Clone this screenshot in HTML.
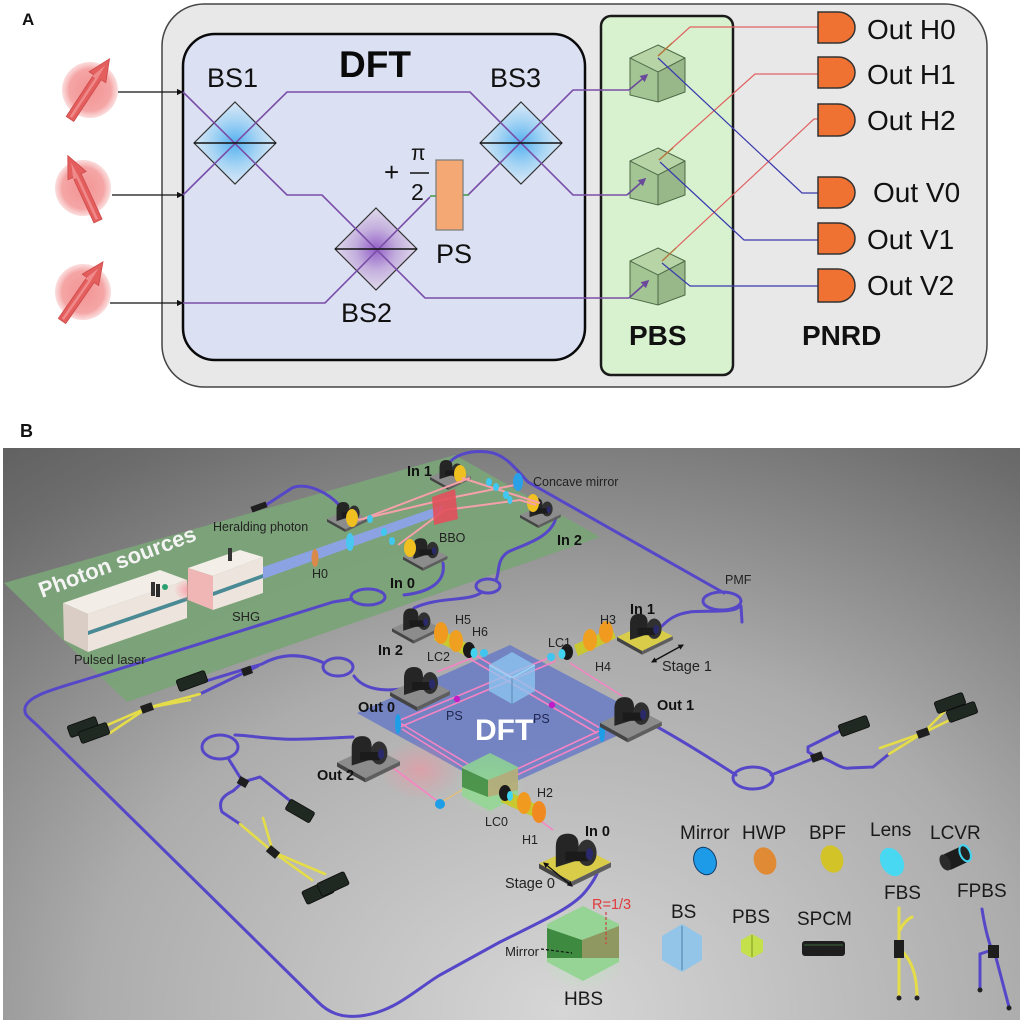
<!DOCTYPE html>
<html><head><meta charset="utf-8"><style>
html,body{margin:0;padding:0;background:#fff;}
svg{display:block;}
text{font-family:"Liberation Sans",Arial,sans-serif;}
</style></head><body>
<svg width="1024" height="1024" viewBox="0 0 1024 1024" xmlns="http://www.w3.org/2000/svg" xmlns:xlink="http://www.w3.org/1999/xlink">
<defs>
 <radialGradient id="gBS" cx="50%" cy="50%" r="50%">
  <stop offset="0" stop-color="#55b2f0"/><stop offset=".55" stop-color="#a6d4f4"/><stop offset="1" stop-color="#dbe8f6"/>
 </radialGradient>
 <radialGradient id="gBS2" cx="50%" cy="50%" r="50%">
  <stop offset="0" stop-color="#9460c8"/><stop offset=".5" stop-color="#c3aedd"/><stop offset="1" stop-color="#e0dbec"/>
 </radialGradient>
 <radialGradient id="gSph" cx="50%" cy="50%" r="50%">
  <stop offset="0" stop-color="#f39494"/><stop offset=".75" stop-color="#f5a5a5"/><stop offset="1" stop-color="#f8c6c6" stop-opacity=".6"/>
 </radialGradient>
 <radialGradient id="gBg" gradientUnits="userSpaceOnUse" cx="560" cy="1010" r="800" gradientTransform="translate(560,1010) scale(1.3,1) translate(-560,-1010)">
  <stop offset="0" stop-color="#d6d6d6"/><stop offset=".45" stop-color="#acacac"/><stop offset=".8" stop-color="#6c6c6c"/><stop offset="1" stop-color="#525252"/>
 </radialGradient>
 <radialGradient id="gGlow" cx="50%" cy="50%" r="50%">
  <stop offset="0" stop-color="#ff8a9a" stop-opacity=".8"/><stop offset="1" stop-color="#ff8a9a" stop-opacity="0"/>
 </radialGradient>
 <radialGradient id="gGreenGlow" cx="50%" cy="50%" r="50%">
  <stop offset="0" stop-color="#a8f0a8" stop-opacity=".9"/><stop offset="1" stop-color="#a8f0a8" stop-opacity="0"/>
 </radialGradient>
 <marker id="mp" viewBox="0 0 10 10" refX="8" refY="5" markerWidth="5" markerHeight="5" orient="auto"><path d="M0,0 L10,5 L0,10 z" fill="#6a4a9a"/></marker>
 <marker id="mk" viewBox="0 0 10 10" refX="8" refY="5" markerWidth="5" markerHeight="5" orient="auto"><path d="M0,0 L10,5 L0,10 z" fill="#111"/></marker>
 <marker id="mk2" viewBox="0 0 10 10" refX="8" refY="5" markerWidth="4" markerHeight="4" orient="auto-start-reverse"><path d="M0,0 L10,5 L0,10 z" fill="#111"/></marker>
 <g id="parrow">
  <polygon points="0,-4.5 50,-4.5 50,-10 72,0 50,10 50,4.5 0,4.5" fill="#e45e5e" stroke="#cc4848" stroke-width=".8"/>
  <polygon points="2,-1.5 48,-1.5 48,-5 64,0 48,1 2,1" fill="#f08a8a"/>
 </g>
 <g id="cube">
  <polygon points="0,0 27,13 0,27 -28,13" fill="#b6d4a6"/>
  <polygon points="-28,13 0,27 0,57 -28,50" fill="#a3c493"/>
  <polygon points="0,27 27,13 27,47 0,57" fill="#98b889"/>
  <polygon points="0,0 27,13 27,47 0,57 -28,50 -28,13" fill="none" stroke="#4d6a46" stroke-width="1"/>
  <polyline points="-28,13 0,27 27,13" fill="none" stroke="#4d6a46" stroke-width="1"/>
  <line x1="0" y1="27" x2="0" y2="57" stroke="#4d6a46" stroke-width="1"/>
 </g>
 <g id="mt">
  <polygon points="0,28 33,13 60,27 27,43"/>
  <polygon points="0,28 27,43 27,47 0,32" fill="#444"/>
  <polygon points="27,43 60,27 60,31 27,47" fill="#5e5e5e"/>
  <path d="M14,31 L14,14 Q14,3 24,3 Q33,3 33,13 L33,25 Z" fill="#252525"/>
  <ellipse cx="40" cy="19" rx="8" ry="11" fill="#303030"/>
  <rect x="22" y="18" width="19" height="8" fill="#1b1b1b"/>
  <ellipse cx="42" cy="20" rx="3" ry="5" fill="#2a2a6a"/>
 </g>
</defs>

<!-- ================= PANEL A ================= -->
<text x="22" y="25" font-size="17" font-weight="bold" fill="#111">A</text>
<rect x="162" y="4" width="825" height="383" rx="42" fill="#e8e8e8" stroke="#444" stroke-width="1.5"/>
<rect x="183" y="34" width="402" height="326" rx="32" fill="#dbe0f3" stroke="#0a0a0a" stroke-width="2.5"/>
<rect x="601" y="16" width="132" height="359" rx="10" fill="#d8f2cf" stroke="#1a1a1a" stroke-width="2.5"/>

<!-- spheres -->
<circle cx="90" cy="90" r="28" fill="url(#gSph)"/>
<circle cx="83" cy="188" r="28" fill="url(#gSph)"/>
<circle cx="83" cy="292" r="28" fill="url(#gSph)"/>
<use href="#parrow" transform="translate(70,119) rotate(-56.7)"/>
<use href="#parrow" transform="translate(98,221) rotate(-114.8)"/>
<use href="#parrow" transform="translate(62,321) rotate(-55.3)"/>

<!-- input arrows -->
<g stroke="#111" stroke-width="1.3">
 <line x1="118" y1="92" x2="182" y2="92" marker-end="url(#mk)"/>
 <line x1="112" y1="195" x2="182" y2="195" marker-end="url(#mk)"/>
 <line x1="110" y1="303" x2="182" y2="303" marker-end="url(#mk)"/>
</g>

<!-- beam splitters -->
<polygon points="235,102 276,143 235,184 194,143" fill="url(#gBS)" stroke="#333" stroke-width="1.2"/>
<polygon points="376,208 417,249 376,290 335,249" fill="url(#gBS2)" stroke="#333" stroke-width="1.2"/>
<polygon points="521,102 562,143 521,184 480,143" fill="url(#gBS)" stroke="#333" stroke-width="1.2"/>

<!-- purple paths -->
<g fill="none" stroke="#7a4ea8" stroke-width="1.6">
 <polyline points="183,92 287,195 322,195 425,298 629,298"/>
 <polyline points="183,195 287,92 470,92 573,195 627,195"/>
 <polyline points="183,303 325,303 430,197"/>
 <polyline points="468,195 573,90 629,90"/>
</g>
<line x1="430" y1="196" x2="436" y2="196" stroke="#4a9a4a" stroke-width="1.6"/>
<line x1="462" y1="195" x2="469" y2="195" stroke="#4a9a4a" stroke-width="1.6"/>
<g stroke="#111" stroke-width="1.6">
 <line x1="194" y1="143" x2="276" y2="143"/>
 <line x1="335" y1="249" x2="417" y2="249"/>
 <line x1="480" y1="143" x2="562" y2="143"/>
</g>

<!-- phase shifter -->
<rect x="436" y="160" width="27" height="70" fill="#f4a874" stroke="#7a7a7a" stroke-width="1.2"/>
<text x="384" y="181" font-size="26" fill="#111">+</text>
<text x="411" y="160" font-size="21" fill="#111" font-family="'Liberation Serif',serif">π</text>
<line x1="410" y1="173" x2="429" y2="173" stroke="#111" stroke-width="1.5"/>
<text x="411" y="200" font-size="23" fill="#111" font-family="'Liberation Serif',serif">2</text>

<!-- PBS cubes -->
<use href="#cube" transform="translate(658,45)"/>
<use href="#cube" transform="translate(658,148)"/>
<use href="#cube" transform="translate(658,248)"/>

<g fill="none" stroke-width="1.6" stroke="#6a4a9a">
 <line x1="629" y1="90" x2="647" y2="75" marker-end="url(#mp)"/>
 <line x1="627" y1="195" x2="645" y2="179" marker-end="url(#mp)"/>
 <line x1="629" y1="298" x2="648" y2="281" marker-end="url(#mp)"/>
</g>

<!-- red and blue outputs -->
<g fill="none" stroke="#e06262" stroke-width="1.2">
 <polyline points="658,56 690,27 818,27"/>
 <polyline points="659,160 755,74 818,74"/>
 <polyline points="662,261 814,119 818,119"/>
</g>
<g fill="none" stroke="#b07a3a" stroke-width="1.2">
 <line x1="658" y1="56" x2="672" y2="43"/>
 <line x1="659" y1="160" x2="673" y2="148"/>
 <line x1="662" y1="261" x2="676" y2="248"/>
</g>
<g fill="none" stroke="#3a3aae" stroke-width="1.2">
 <polyline points="658,58 802,193 818,193"/>
 <polyline points="660,162 744,240 818,240"/>
 <polyline points="662,263 690,286 818,286"/>
</g>

<!-- detectors -->
<g fill="#f07232" stroke="#333" stroke-width="1.5">
 <path d="M818,12 H838 A17,15.5 0 0 1 838,43 H818 Z"/>
 <path d="M818,57 H838 A17,15.5 0 0 1 838,88 H818 Z"/>
 <path d="M818,104 H838 A17,16 0 0 1 838,136 H818 Z"/>
 <path d="M818,177 H838 A17,15.5 0 0 1 838,208 H818 Z"/>
 <path d="M818,223 H838 A17,15.5 0 0 1 838,254 H818 Z"/>
 <path d="M818,269 H838 A17,16.5 0 0 1 838,302 H818 Z"/>
</g>
<g font-size="28" fill="#111">
 <text x="867" y="39">Out H0</text>
 <text x="867" y="84">Out H1</text>
 <text x="867" y="130">Out H2</text>
 <text x="873" y="202">Out V0</text>
 <text x="867" y="249">Out V1</text>
 <text x="867" y="295">Out V2</text>
</g>

<!-- panel A labels -->
<text x="207" y="87" font-size="27" fill="#111">BS1</text>
<text x="490" y="87" font-size="27" fill="#111">BS3</text>
<text x="341" y="322" font-size="27" fill="#111">BS2</text>
<text x="436" y="263" font-size="27" fill="#111">PS</text>
<text x="339" y="77" font-size="37" font-weight="bold" fill="#0a0a0a">DFT</text>
<text x="629" y="345" font-size="28" font-weight="bold" fill="#111">PBS</text>
<text x="802" y="345" font-size="28" font-weight="bold" fill="#111">PNRD</text>

<!-- ================= PANEL B ================= -->
<text x="20" y="437" font-size="18" font-weight="bold" fill="#111">B</text>
<rect x="3" y="448" width="1017" height="572" fill="url(#gBg)"/>

<!-- green source plane -->
<polygon points="4,583 455,455 600,537 127,702" fill="#7aa377" opacity=".95"/>

<!-- DFT plane -->
<polygon points="357,713 510,645 652,720 497,790" fill="#6b7cc4" opacity=".88"/>

<!-- fibers -->
<g fill="none" stroke="#5547c8" stroke-width="3" stroke-linecap="round" stroke-linejoin="round">
 <!-- heralding -->
 <path d="M340,506 C328,492 306,482 292,488 L266,505"/>
 <!-- In1 source to PMF to In1 DFT -->
 <path d="M448,466 C452,455 470,450 488,452 C505,454 515,468 528,482 L724,593"/>
 <ellipse cx="722" cy="601" rx="19" ry="9"/>
 <path d="M740,605 C738,614 705,610 690,612 C675,614 668,620 662,626"/>
 <path d="M741,606 L742,622"/>
 <!-- In2 source to In2 DFT -->
 <path d="M556,517 C552,538 522,545 508,552 C496,560 500,572 496,580"/>
 <ellipse cx="488" cy="586" rx="12" ry="7"/>
 <path d="M482,592 C470,602 440,596 414,608"/>
 <!-- In0 source around to In0 DFT -->
 <path d="M443,563 C446,582 430,592 404,595"/>
 <ellipse cx="368" cy="597" rx="17" ry="8"/>
 <path d="M352,599 L333,602 L100,675 C60,688 28,694 25,708 C24,716 28,716 40,728 L318,1002 C328,1012 340,1018 360,1016 C395,1012 415,990 440,975 L500,942 C540,922 572,908 585,892 C595,880 598,872 600,866"/>
 <!-- Out0 to left SPCMs -->
 <path d="M407,688 C385,692 364,690 354,676"/>
 <ellipse cx="338" cy="667" rx="15" ry="9"/>
 <path d="M324,663 C300,652 280,654 262,664 L206,681"/>
 <path d="M258,666 L200,694"/>
 <!-- Out1 to right SPCMs -->
 <path d="M640,718 C665,730 705,755 736,775"/>
 <ellipse cx="753" cy="778" rx="20" ry="11"/>
 <path d="M771,775 C790,768 805,762 817,757 L808,752 L808,747 L842,730"/>
 <path d="M817,757 C830,758 840,770 850,768 L873,767 L889,754"/>
 <!-- Out2 to SPCMs -->
 <path d="M353,737 C330,738 300,740 283,739 C260,738 245,735 235,735"/>
 <ellipse cx="220" cy="747" rx="18" ry="12"/>
 <path d="M228,758 L243,782 L260,777 L293,803"/>
 <path d="M243,782 L233,791 C222,796 218,802 222,812 L240,824"/>
</g>
<!-- yellow fibers -->
<g fill="none" stroke="#e4dc48" stroke-width="2.6" stroke-linecap="round">
 <path d="M200,694 L147,708 L105,726"/>
 <path d="M190,700 L147,708 L110,733"/>
 <path d="M889,754 L923,733 L948,708"/>
 <path d="M880,748 L923,733 L958,716"/>
 <path d="M240,824 L273,852 L312,880"/>
 <path d="M263,818 L273,852 L325,874"/>
</g>
<g fill="#1e1e1e">
 <rect x="-6" y="-4" width="12" height="8" transform="translate(147,708) rotate(-20)"/>
 <rect x="-5" y="-4" width="10" height="8" transform="translate(247,671) rotate(-20)"/>
 <rect x="-6" y="-4" width="12" height="8" transform="translate(817,757) rotate(-20)"/>
 <rect x="-6" y="-4" width="12" height="8" transform="translate(923,733) rotate(-20)"/>
 <rect x="-5" y="-4" width="10" height="8" transform="translate(243,782) rotate(30)"/>
 <rect x="-6" y="-4" width="12" height="8" transform="translate(273,852) rotate(40)"/>
 <rect x="-8" y="-3" width="16" height="6" transform="translate(259,507) rotate(-20)"/>
</g>
<!-- SPCMs -->
<g fill="#1f2821" stroke="#0c0c0c" stroke-width=".8">
 <rect x="-15" y="-6" width="30" height="12" rx="2" transform="translate(192,681) rotate(-20)"/>
 <rect x="-15" y="-6" width="30" height="12" rx="2" transform="translate(83,727) rotate(-20)"/>
 <rect x="-15" y="-6" width="30" height="12" rx="2" transform="translate(94,733) rotate(-20)"/>
 <rect x="-15" y="-6" width="30" height="12" rx="2" transform="translate(854,726) rotate(-20)"/>
 <rect x="-15" y="-6" width="30" height="12" rx="2" transform="translate(950,703) rotate(-20)"/>
 <rect x="-15" y="-6" width="30" height="12" rx="2" transform="translate(962,712) rotate(-20)"/>
 <rect x="-14" y="-6" width="28" height="12" rx="2" transform="translate(300,811) rotate(30)"/>
 <rect x="-15" y="-7" width="30" height="14" rx="2" transform="translate(318,892) rotate(-25)"/>
 <rect x="-15" y="-7" width="30" height="14" rx="2" transform="translate(333,884) rotate(-25)"/>
</g>

<!-- source boxes -->
<polygon points="63,603 160,570 187,580 88,614" fill="#f2ede7"/>
<polygon points="63,603 88,614 88,652 64,640" fill="#d9cdc5"/>
<polygon points="88,614 187,580 187,618 88,652" fill="#ede4dd"/>
<polygon points="88,631 187,597 187,601 88,635" fill="#4a8a94"/>
<ellipse cx="190" cy="590" rx="16" ry="12" fill="url(#gGlow)"/>
<polygon points="188,568 240,550 263,557 213,576" fill="#f3eee8"/>
<polygon points="188,568 213,576 213,610 188,600" fill="#f0b6b6"/>
<polygon points="213,576 263,557 263,593 213,610" fill="#ede4dd"/>
<polygon points="213,592 263,574 263,578 213,596" fill="#4a8a94"/>
<rect x="228" y="548" width="4" height="13" fill="#333"/>
<rect x="151" y="582" width="4" height="14" fill="#333"/>
<rect x="156" y="584" width="4" height="13" fill="#2a2a2a"/>
<circle cx="165" cy="587" r="3" fill="#2aa070"/>

<!-- pump beam -->
<polygon points="263,567 263,579 443,514 443,505" fill="#8ea2f6" opacity=".85"/>
<ellipse cx="315" cy="558" rx="3.5" ry="9" fill="#d98a4a"/>
<ellipse cx="350" cy="542" rx="4" ry="9" fill="#48c8f0"/>

<!-- source mounts -->
<use href="#mt" fill="#8c8c8c" transform="translate(327,500) scale(.68)"/>
<use href="#mt" fill="#8c8c8c" transform="translate(430,458) scale(.68)"/>
<use href="#mt" fill="#8c8c8c" transform="translate(403,536) scale(.74)"/>
<use href="#mt" fill="#8c8c8c" transform="translate(520,496) scale(.68)"/>
<g fill="#f0c020">
 <ellipse cx="352" cy="518" rx="6" ry="9"/>
 <ellipse cx="460" cy="474" rx="6" ry="9"/>
 <ellipse cx="410" cy="548" rx="6" ry="9"/>
 <ellipse cx="533" cy="503" rx="6" ry="9"/>
</g>
<!-- BBO and beams -->
<g stroke="#f5a0aa" stroke-width="2" fill="none">
 <polyline points="358,520 455,497 515,485"/>
 <line x1="365" y1="518" x2="470" y2="478"/>
 <polyline points="398,545 445,510 520,500 536,505"/>
 <polyline points="462,478 515,495 540,503"/>
</g>
<polygon points="432,497 455,489 458,519 434,525" fill="#e3505c" opacity=".9"/>
<g fill="#40c8f0">
 <ellipse cx="370" cy="519" rx="3" ry="4"/><ellipse cx="384" cy="532" rx="3" ry="4"/>
 <ellipse cx="392" cy="541" rx="3" ry="4"/><ellipse cx="489" cy="482" rx="3" ry="4"/>
 <ellipse cx="496" cy="487" rx="3" ry="4"/><ellipse cx="506" cy="495" rx="3" ry="4"/>
 <ellipse cx="510" cy="500" rx="2.5" ry="4"/>
</g>
<ellipse cx="518" cy="482" rx="5" ry="9" fill="#2aa0e6"/>

<!-- DFT interior beams -->
<ellipse cx="420" cy="770" rx="40" ry="30" fill="url(#gGlow)" opacity=".6"/>
<g stroke="#f684c4" stroke-width="1.6" fill="none">
 <line x1="398" y1="721" x2="553" y2="656"/>
 <line x1="400" y1="727" x2="556" y2="661"/>
 <line x1="473" y1="654" x2="600" y2="728"/>
 <line x1="470" y1="659" x2="597" y2="733"/>
 <line x1="400" y1="723" x2="468" y2="764"/>
 <line x1="402" y1="729" x2="466" y2="769"/>
 <line x1="599" y1="731" x2="515" y2="770"/>
 <line x1="601" y1="736" x2="517" y2="775"/>
 <line x1="437" y1="672" x2="472" y2="658"/>
 <line x1="570" y1="663" x2="622" y2="696"/>
 <line x1="373" y1="753" x2="440" y2="803"/>
 <line x1="496" y1="788" x2="553" y2="830"/>
</g>
<line x1="440" y1="803" x2="482" y2="778" stroke="#e8c070" stroke-width="1.3"/>
<circle cx="457" cy="699" r="3.2" fill="#c21cc8"/>
<circle cx="552" cy="705" r="3.2" fill="#c21cc8"/>
<!-- BS cube -->
<polygon points="512,652 535,665 535,691 512,704 489,691 489,665" fill="#8cc8f2" opacity=".75"/>
<polyline points="489,665 512,678 535,665" fill="none" stroke="#a8dcf8" stroke-width="1"/>
<line x1="512" y1="678" x2="512" y2="704" stroke="#5a8ab0" stroke-width="1"/>
<!-- HBS cube in setup -->
<ellipse cx="490" cy="785" rx="34" ry="30" fill="url(#gGreenGlow)" opacity=".6"/>
<polygon points="490,753 518,767 518,796 490,811 462,796 462,767" fill="#90d890" opacity=".8"/>
<polygon points="462,768 488,780 488,797 462,787" fill="#3f8a3f" opacity=".85"/>
<polygon points="488,780 518,768 518,790 488,797" fill="#c0a070" opacity=".7"/>
<!-- mirrors -->
<ellipse cx="398" cy="724" rx="3" ry="10" fill="#1e9ee6"/>
<ellipse cx="602" cy="732" rx="3" ry="10" fill="#1e9ee6"/>
<ellipse cx="440" cy="804" rx="5" ry="5" fill="#1e9ee6"/>

<!-- DFT mounts -->
<use href="#mt" fill="#8c8c8c" transform="translate(392,606) scale(.8)"/>
<use href="#mt" fill="#d8cc48" transform="translate(617,611) scale(.93)"/>
<use href="#mt" fill="#8c8c8c" transform="translate(390,664) scale(1)"/>
<use href="#mt" fill="#8c8c8c" transform="translate(600,694) scale(1.03)"/>
<use href="#mt" fill="#8c8c8c" transform="translate(337,733) scale(1.05)"/>
<use href="#mt" fill="#d8cc48" transform="translate(539,830) scale(1.2)"/>

<!-- lens stacks -->
<g>
 <polygon points="438,628 470,645 466,656 434,640" fill="#c8c830"/>
 <ellipse cx="441" cy="633" rx="7" ry="11" fill="#f09a20"/>
 <ellipse cx="456" cy="641" rx="7" ry="11" fill="#f0a020"/>
 <ellipse cx="469" cy="650" rx="6" ry="8" fill="#1a1a1a"/>
 <ellipse cx="474" cy="653" rx="3.5" ry="5" fill="#40d4f0"/>
 <ellipse cx="484" cy="653" rx="4" ry="4" fill="#40c4f0"/>

 <polygon points="612,628 574,645 578,656 616,638" fill="#c8c830"/>
 <ellipse cx="606" cy="632" rx="7" ry="11" fill="#f09a20"/>
 <ellipse cx="590" cy="640" rx="7" ry="11" fill="#f0a020"/>
 <ellipse cx="567" cy="652" rx="6" ry="8" fill="#1a1a1a"/>
 <ellipse cx="562" cy="654" rx="3.5" ry="5" fill="#40d4f0"/>
 <ellipse cx="551" cy="657" rx="4" ry="4" fill="#40c4f0"/>

 <polygon points="505,790 540,806 536,818 501,802" fill="#c8c830"/>
 <ellipse cx="505" cy="793" rx="6" ry="8" fill="#1a1a1a"/>
 <ellipse cx="510" cy="796" rx="3" ry="5" fill="#40d4f0"/>
 <ellipse cx="524" cy="803" rx="7" ry="11" fill="#f09a20"/>
 <ellipse cx="539" cy="812" rx="7" ry="11" fill="#f08a20"/>
</g>

<!-- stage arrows -->
<line x1="652" y1="662" x2="683" y2="645" stroke="#111" stroke-width="1.4" marker-start="url(#mk2)" marker-end="url(#mk2)"/>
<line x1="544" y1="863" x2="572" y2="886" stroke="#111" stroke-width="1.4" marker-start="url(#mk2)" marker-end="url(#mk2)"/>

<!-- panel B labels -->
<text transform="translate(42,598) rotate(-20.5)" font-size="22" font-weight="bold" fill="#f4f4f4">Photon sources</text>
<g font-size="12.5" fill="#222">
 <text x="213" y="531">Heralding photon</text>
 <text x="312" y="578">H0</text>
 <text x="439" y="542">BBO</text>
 <text x="533" y="486">Concave mirror</text>
 <text x="232" y="621" font-size="13">SHG</text>
 <text x="74" y="664" font-size="13">Pulsed laser</text>
 <text x="725" y="584">PMF</text>
 <text x="600" y="624">H3</text>
 <text x="548" y="647">LC1</text>
 <text x="595" y="671">H4</text>
 <text x="455" y="624">H5</text>
 <text x="472" y="636">H6</text>
 <text x="427" y="661">LC2</text>
 <text x="446" y="720" fill="#1e2550">PS</text>
 <text x="533" y="723" fill="#1e2550">PS</text>
 <text x="537" y="797">H2</text>
 <text x="485" y="826">LC0</text>
 <text x="522" y="844">H1</text>
</g>
<g font-size="14.5" font-weight="bold" fill="#111">
 <text x="407" y="476">In 1</text>
 <text x="557" y="545">In 2</text>
 <text x="390" y="588">In 0</text>
 <text x="630" y="614">In 1</text>
 <text x="378" y="655">In 2</text>
 <text x="358" y="712">Out 0</text>
 <text x="657" y="710">Out 1</text>
 <text x="317" y="780">Out 2</text>
 <text x="585" y="836">In 0</text>
</g>
<text x="662" y="671" font-size="14.5" fill="#222">Stage 1</text>
<text x="555" y="888" font-size="14.5" fill="#222" text-anchor="end">Stage 0</text>
<text x="475" y="740" font-size="30" font-weight="bold" fill="#ffffff">DFT</text>

<!-- legend -->
<g font-size="19" fill="#1a1a1a">
 <text x="680" y="839">Mirror</text>
 <text x="742" y="839">HWP</text>
 <text x="809" y="839">BPF</text>
 <text x="870" y="836">Lens</text>
 <text x="930" y="839">LCVR</text>
 <text x="884" y="899">FBS</text>
 <text x="957" y="897">FPBS</text>
 <text x="671" y="918">BS</text>
 <text x="732" y="923">PBS</text>
 <text x="797" y="925">SPCM</text>
 <text x="564" y="1005">HBS</text>
</g>
<text x="592" y="909" font-size="14.5" fill="#e03a3a">R=1/3</text>
<text x="539" y="956" font-size="13" fill="#222" text-anchor="end">Mirror</text>

<ellipse cx="705" cy="861" rx="11" ry="14" transform="rotate(-20 705 861)" fill="#1e9be8" stroke="#0e3a66" stroke-width="1"/>
<ellipse cx="765" cy="861" rx="11" ry="14" transform="rotate(-20 765 861)" fill="#e08a35"/>
<ellipse cx="832" cy="859" rx="11" ry="14" transform="rotate(-20 832 859)" fill="#d2c428"/>
<ellipse cx="892" cy="862" rx="11" ry="15" transform="rotate(-30 892 862)" fill="#48d8f2"/>
<g transform="rotate(-25 957 857)">
 <rect x="944" y="849" width="22" height="17" rx="3" fill="#1c1c1c"/>
 <ellipse cx="944" cy="857" rx="5" ry="8.5" fill="#2a2a2a"/>
 <ellipse cx="966" cy="857" rx="5" ry="8.5" fill="#222" stroke="#40d4f0" stroke-width="2"/>
</g>

<!-- HBS legend cube -->
<ellipse cx="583" cy="960" rx="42" ry="30" fill="url(#gGreenGlow)" opacity=".5"/>
<polygon points="583,906 619,924 619,962 583,981 547,962 547,924" fill="#96d496"/>
<polygon points="547,928 582,940 582,958 547,958" fill="#3e8a40"/>
<polygon points="582,940 619,926 619,958 582,958" fill="#8e9860"/>
<line x1="606" y1="912" x2="606" y2="944" stroke="#d04040" stroke-width="1.2" stroke-dasharray="3,2"/>
<line x1="541" y1="949" x2="572" y2="953" stroke="#111" stroke-width="1.2" stroke-dasharray="3,2"/>

<!-- BS / PBS / SPCM legend -->
<polygon points="682,924 702,936 702,960 682,972 662,960 662,936" fill="#88c4ec" opacity=".85"/>
<line x1="682" y1="926" x2="682" y2="970" stroke="#4a7ea8" stroke-width="1"/>
<polygon points="752,934 763,940 763,952 752,958 741,952 741,940" fill="#c4e04a"/>
<line x1="752" y1="935" x2="752" y2="957" stroke="#7a9a20" stroke-width="1"/>
<rect x="802" y="941" width="43" height="15" rx="3" fill="#1e1e1e"/>
<line x1="804" y1="945" x2="843" y2="945" stroke="#3a6a3a" stroke-width="1"/>

<!-- FBS legend -->
<g fill="none" stroke="#e4dc48" stroke-width="3" stroke-linecap="round">
 <path d="M899,908 L899,996"/>
 <path d="M901,950 Q917,965 917,997"/>
 <path d="M900,930 Q905,920 912,917"/>
</g>
<rect x="894" y="940" width="10" height="18" fill="#1e1e1e"/>
<circle cx="899" cy="998" r="2.5" fill="#222"/><circle cx="917" cy="998" r="2.5" fill="#222"/>
<!-- FPBS legend -->
<g fill="none" stroke="#5547c8" stroke-width="3" stroke-linecap="round">
 <path d="M982,909 Q986,935 992,950"/>
 <path d="M992,950 L980,954 L980,988"/>
 <path d="M994,950 L1009,1007"/>
</g>
<rect x="988" y="945" width="11" height="13" fill="#1e1e1e"/>
<circle cx="980" cy="990" r="2.5" fill="#222"/><circle cx="1009" cy="1008" r="2.5" fill="#222"/>
</svg>
</body></html>
